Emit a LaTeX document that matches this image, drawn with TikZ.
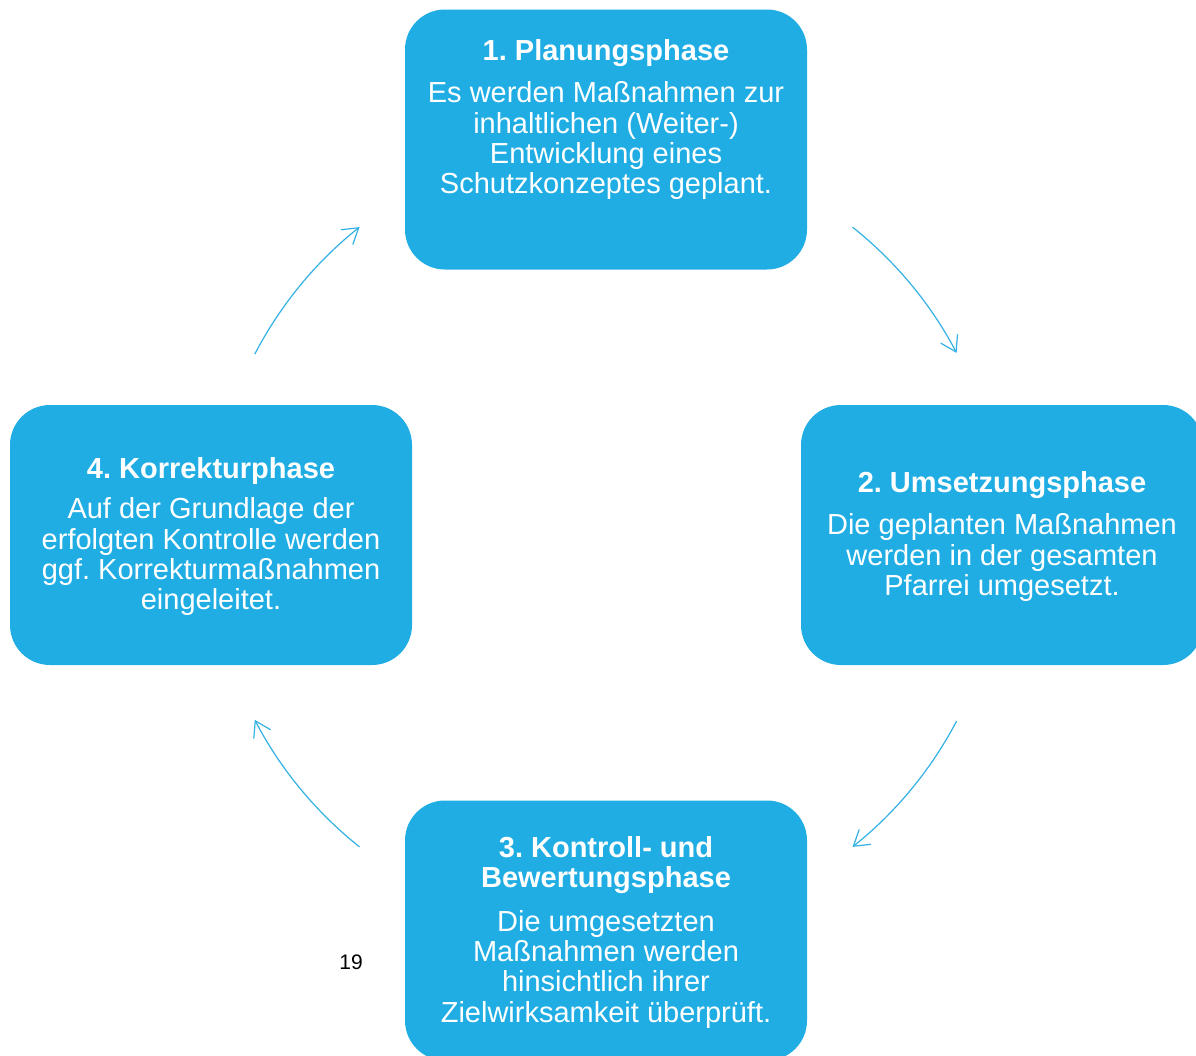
\documentclass[tikz,border=0pt]{standalone}
\usepackage{fontspec}
\setmainfont{Liberation Sans}
\usetikzlibrary{arrows.meta,calc}
\definecolor{boxblue}{HTML}{1FADE4}
\definecolor{arrblue}{HTML}{34B1E4}
\tikzset{
  phasebox/.style={rectangle, rounded corners=40pt, fill=boxblue, draw=none,
    minimum width=402pt, minimum height=260pt, inner sep=0pt},
  phasetext/.style={text=white, align=center, inner sep=0pt, anchor=north,
    font=\fontsize{29}{30.4}\selectfont\frenchspacing},
  cyclearrow/.style={draw=arrblue, line width=1.2pt,
    -{Straight Barb[length=15pt, width=19pt, line width=1.2pt]}},
  pagenum/.style={text=black, inner sep=0pt, anchor=base, font=\fontsize{21}{24}\selectfont}
}
\frenchspacing
\newcommand{\firststrut}{\rule{0pt}{25pt}}
\begin{document}
\begin{tikzpicture}[x=1pt, y=-1pt]
\useasboundingbox (0,0) rectangle (1196,1055);
\fill[white] (0,0) rectangle (1196,1055);

% boxes
\node[phasebox] (b1) at (606,139.5) {};
\node[phasebox] (b2) at (1002,535) {};
\node[phasebox] (b3) at (606,930.5) {};
\node[phasebox] (b4) at (211,535) {};

% texts
\node[phasetext] (t1) at (606,35) {\firststrut\bfseries 1. Planungsphase\\[12pt]
  Es werden Maßnahmen zur\\ inhaltlichen (Weiter-)\\ Entwicklung eines\\ Schutzkonzeptes geplant.};
\node[phasetext] (t2) at (1002,467) {\firststrut\bfseries 2. Umsetzungsphase\\[12pt]
  Die geplanten Maßnahmen\\ werden in der gesamten\\ Pfarrei umgesetzt.};
\node[phasetext] (t3) at (606,832) {\firststrut\bfseries 3. Kontroll- und\\ \bfseries Bewertungsphase\\[13pt]
  Die umgesetzten\\ Maßnahmen werden\\ hinsichtlich ihrer\\ Zielwirksamkeit überprüft.};
\node[phasetext] (t4) at (211,453) {\firststrut\bfseries 4. Korrekturphase\\[10pt]
  Auf der Grundlage der\\ erfolgten Kontrolle werden\\ ggf. Korrekturmaßnahmen\\ eingeleitet.};

% page number
\node[pagenum] (pg) at (351,969) {19};

% cycle arrows (arcs about the diagram centre)
\coordinate (ctr) at (606,537);
\coordinate (a1s) at ($(ctr)+(-51.5:396)$);
\coordinate (a2s) at ($(ctr)+(27.7:396)$);
\coordinate (a3s) at ($(ctr)+(128.5:396)$);
\coordinate (a4s) at ($(ctr)+(207.5:396)$);
\draw[cyclearrow] (a1s) arc[start angle=-51.5, end angle=-27.7, radius=396];
\draw[cyclearrow] (a2s) arc[start angle=27.7, end angle=51.5, radius=396];
\draw[cyclearrow] (a3s) arc[start angle=128.5, end angle=152.5, radius=396];
\draw[cyclearrow] (a4s) arc[start angle=207.5, end angle=231.5, radius=396];
\end{tikzpicture}
\end{document}
